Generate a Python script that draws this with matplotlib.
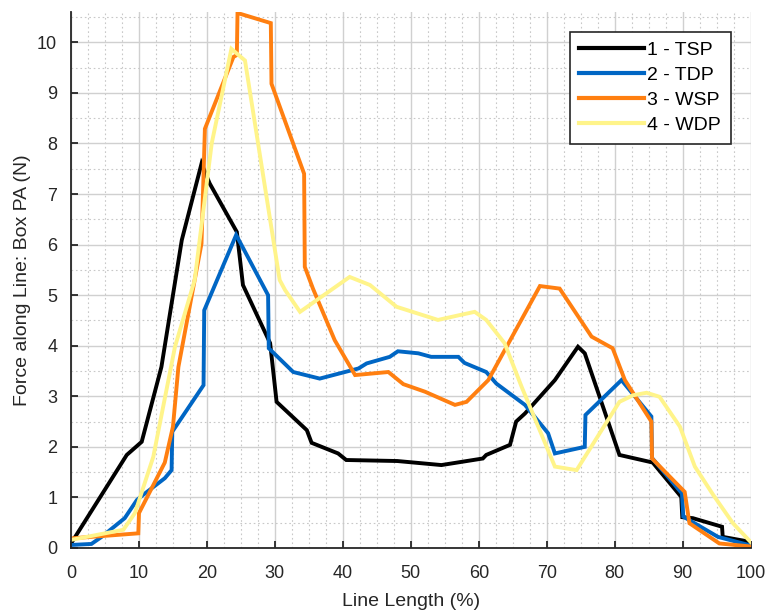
import matplotlib
matplotlib.use("Agg")
import matplotlib.pyplot as plt
from matplotlib.ticker import MultipleLocator

plt.rcParams['font.family'] = ['Liberation Sans', 'DejaVu Sans']

# line length (%) and force (N) for each run
tsp_x = [0, 8.2, 10.4, 13.3, 16.3, 19.2, 20.4, 24.4, 25.3, 29.3, 30.25, 34.7, 35.4, 39.3,
         40.5, 48.0, 54.5, 60.6, 61.1, 64.6, 65.5, 66.8, 71.2, 74.6, 75.6, 80.7, 85.6,
         89.8, 89.95, 91.5, 95.8, 95.9, 100]
tsp_y = [0.09, 1.84, 2.10, 3.58, 6.09, 7.60, 7.21, 6.25, 5.20, 4.05, 2.89, 2.33, 2.08, 1.87,
         1.74, 1.72, 1.64, 1.77, 1.84, 2.04, 2.50, 2.66, 3.32, 3.98, 3.85, 1.84, 1.69,
         1.01, 0.61, 0.59, 0.42, 0.22, 0.12]

tdp_x = [0, 3.0, 4.5, 7.9, 9.7, 10.6, 13.8, 14.8, 14.9, 19.5, 19.6, 24.3, 29.0, 29.1, 32.7,
         36.6, 40.3, 42.3, 43.5, 46.9, 48.1, 51.1, 53.0, 57.0, 57.9, 61.1, 62.6, 66.8, 70.2,
         71.2, 75.6, 75.7, 81.0, 85.4, 85.5, 89.9, 90.1, 95.2, 100]
tdp_y = [0.06, 0.08, 0.22, 0.59, 0.95, 1.05, 1.38, 1.54, 2.30, 3.22, 4.70, 6.19, 5.00, 3.95, 3.48,
         3.35, 3.48, 3.55, 3.65, 3.78, 3.89, 3.85, 3.78, 3.78, 3.66, 3.48, 3.25, 2.83, 2.27,
         1.87, 2.00, 2.63, 3.32, 2.60, 1.78, 1.08, 0.62, 0.22, 0.05]

wsp_x = [0, 9.9, 10.0, 13.8, 15.0, 15.8, 19.2, 19.7, 23.9, 24.4, 24.5, 29.4, 29.5, 34.3, 34.4,
         35.6, 38.8, 41.8, 46.7, 48.9, 52.1, 56.5, 58.2, 61.4, 69.0, 71.9, 76.6, 79.7, 81.5,
         85.4, 85.5, 90.3, 91.0, 95.4, 100]
wsp_y = [0.19, 0.29, 0.69, 1.69, 2.40, 3.58, 6.02, 8.29, 9.71, 9.75, 10.58, 10.38, 9.18, 7.40, 5.56,
         5.13, 4.11, 3.42, 3.48, 3.24, 3.09, 2.83, 2.89, 3.32, 5.18, 5.13, 4.18, 3.95, 3.32,
         2.50, 1.77, 1.11, 0.49, 0.09, 0.03]

wdp_x = [0, 7.7, 9.4, 12.1, 15.3, 18.2, 20.7, 23.6, 25.6, 30.7, 31.5, 33.7, 41.0, 44.0, 47.9,
         54.0, 57.0, 59.4, 61.1, 63.8, 66.3, 71.2, 74.4, 77.8, 80.7, 82.7, 84.7, 86.6, 89.6,
         91.8, 94.5, 97.4, 100]
wdp_y = [0.16, 0.36, 0.69, 1.80, 3.98, 5.30, 8.00, 9.87, 9.64, 5.30, 5.10, 4.67, 5.36, 5.20, 4.77,
         4.51, 4.60, 4.67, 4.51, 4.05, 3.19, 1.61, 1.54, 2.27, 2.89, 3.02, 3.07, 2.99, 2.40,
         1.61, 1.05, 0.49, 0.12]

series = [
    (tsp_x, tsp_y, '1 - TSP', '#000000'),
    (tdp_x, tdp_y, '2 - TDP', '#0066c4'),
    (wsp_x, wsp_y, '3 - WSP', '#ff7f10'),
    (wdp_x, wdp_y, '4 - WDP', '#fff48a'),
]

fig = plt.figure(figsize=(7.67, 6.14), dpi=100)
ax = fig.add_axes([0.0926, 0.1075, 0.886, 0.873])

for x, y, name, c in series:
    ax.plot(x, y, color=c, lw=2.8, label=name, solid_joinstyle='miter')

ax.set_xlim(0, 100)
ax.set_ylim(0, 10.6)
ax.xaxis.set_major_locator(MultipleLocator(10))
ax.yaxis.set_major_locator(MultipleLocator(1))
ax.xaxis.set_minor_locator(MultipleLocator(2.5))
ax.yaxis.set_minor_locator(MultipleLocator(0.5))
ax.grid(which='major', color='#d0d0d0', lw=1.0, ls='-')
ax.grid(which='minor', color='#c8c8c8', lw=0.8, ls=(0, (1.5, 2.5)))
ax.set_axisbelow(True)

for s in ['top', 'right']:
    ax.spines[s].set_visible(False)
for s in ['left', 'bottom']:
    ax.spines[s].set_color('#262626')
    ax.spines[s].set_linewidth(1.3)
ax.tick_params(which='major', direction='in', length=5, width=1.3, colors='#262626',
               labelsize=13, labelcolor='#262626')
ax.tick_params(axis='x', which='major', pad=12)
ax.tick_params(axis='y', which='major', pad=10)
ax.tick_params(which='minor', length=0)

ax.set_xlabel('Line Length (%)', fontsize=14, color='#262626', labelpad=8)
ax.set_ylabel('Force along Line: Box PA (N)', fontsize=14, color='#262626', labelpad=4)

leg = ax.legend(loc='upper right', bbox_to_anchor=(0.971, 0.963), fontsize=14,
                handlelength=3.3, fancybox=False, framealpha=1, edgecolor='#262626',
                borderpad=0.5, labelspacing=0.38, handletextpad=0.2, borderaxespad=0)
leg.get_frame().set_linewidth(1.2)
for line in leg.get_lines():
    line.set_linewidth(3)

fig.savefig('out.png', dpi=100)
